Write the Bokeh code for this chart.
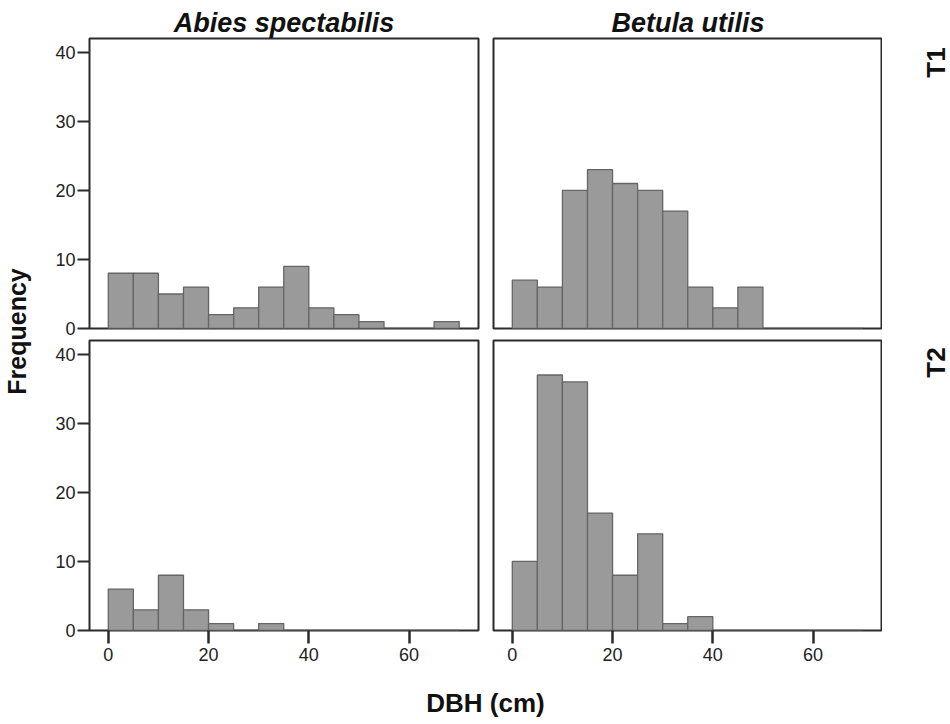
import math
from bokeh.plotting import figure
from bokeh.layouts import row, column
from bokeh.models import Range1d, FixedTicker
from bokeh.core.properties import value
from bokeh.embed import file_html
from bokeh.resources import INLINE

# ---- data ----
bin_left = [0, 5, 10, 15, 20, 25, 30, 35, 40, 45, 50, 55, 60, 65]
bin_right = [5, 10, 15, 20, 25, 30, 35, 40, 45, 50, 55, 60, 65, 70]
abies_t1 = [8, 8, 5, 6, 2, 3, 6, 9, 3, 2, 1, 0, 0, 1]
betula_t1 = [7, 6, 20, 23, 21, 20, 17, 6, 3, 6, 0, 0, 0, 0]
abies_t2 = [6, 3, 8, 3, 1, 0, 1, 0, 0, 0, 0, 0, 0, 0]
betula_t2 = [10, 37, 36, 17, 8, 14, 1, 2, 0, 0, 0, 0, 0, 0]
species = ["Abies spectabilis", "Betula utilis"]
periods = ["T1", "T2"]
x_ticks = [0, 20, 40, 60]
y_ticks = [0, 10, 20, 30, 40]
x_label = "DBH (cm)"
y_label = "Frequency"

FONT = "Liberation Sans"
INK = "#111111"
FRAME = "#2b2b2b"
X_RANGE = (-3.75, 73.85)
Y_RANGE = (0, 42)

FRAME_W = 389
FRAME_H = 290


def no_grid(p):
    for g in p.grid:
        g.visible = False


def panel(counts, left_axis, bottom_axis, title, mb_left, mb_right, mb_top, mb_bottom):
    p = figure(
        width=mb_left + FRAME_W + mb_right,
        height=mb_top + FRAME_H + mb_bottom,
        x_range=Range1d(*X_RANGE), y_range=Range1d(*Y_RANGE),
        x_axis_location="below" if bottom_axis else None,
        y_axis_location="left" if left_axis else None,
        output_backend="svg", toolbar_location=None, title=title,
        min_border_left=mb_left, min_border_right=mb_right,
        min_border_top=mb_top, min_border_bottom=mb_bottom,
    )
    p.background_fill_color = "white"
    p.border_fill_color = "white"
    p.outline_line_color = FRAME
    p.outline_line_width = 2
    no_grid(p)
    p.quad(left=bin_left, right=bin_right, top=counts, bottom=0,
           fill_color="#9a9a9a", line_color="#656565", line_width=1.3)
    if title is not None:
        p.title.text_font = FONT
        p.title.text_font_size = "27px"
        p.title.text_font_style = "bold italic"
        p.title.text_color = INK
        p.title.align = "center"
        p.title.standoff = 2
    if left_axis:
        ax = p.yaxis[0]
        ax.ticker = FixedTicker(ticks=y_ticks, minor_ticks=[])
        ax.axis_line_color = None
        ax.major_tick_out = 12
        ax.major_tick_in = 0
        ax.minor_tick_out = 0
        ax.minor_tick_in = 0
        ax.major_tick_line_color = FRAME
        ax.major_tick_line_width = 2
        ax.major_label_text_font = FONT
        ax.major_label_text_font_size = "18px"
        ax.major_label_text_color = "#222222"
        ax.major_label_standoff = 2
    if bottom_axis:
        ax = p.xaxis[0]
        ax.ticker = FixedTicker(ticks=x_ticks, minor_ticks=[])
        ax.axis_line_color = None
        ax.major_tick_out = 13
        ax.major_tick_in = 0
        ax.minor_tick_out = 0
        ax.minor_tick_in = 0
        ax.major_tick_line_color = FRAME
        ax.major_tick_line_width = 2.5
        ax.major_label_text_font = FONT
        ax.major_label_text_font_size = "18px"
        ax.major_label_text_color = "#222222"
        ax.major_label_standoff = 4
    return p


def strip(w, h):
    s = figure(width=w, height=h, x_range=Range1d(0, w), y_range=Range1d(0, h),
               x_axis_location=None, y_axis_location=None,
               output_backend="svg", toolbar_location=None, title=None,
               min_border=0)
    s.outline_line_color = None
    s.background_fill_color = "white"
    s.border_fill_color = "white"
    no_grid(s)
    return s


tl = panel(abies_t1, True, False, species[0], 45, 7, 38, 10)
tr = panel(betula_t1, False, False, species[1], 8, 0, 38, 10)
bl = panel(abies_t2, True, True, None, 45, 7, 2, 40)
br = panel(betula_t2, False, True, None, 8, 0, 2, 40)

# left strip: y label
left = strip(44, 724)
left.text(x=[16], y=[393], text=[y_label], angle=math.pi / 2,
          text_align="center", text_baseline="alphabetic",
          text_font=value(FONT), text_font_style="bold",
          text_font_size="25px", text_color=INK)

# right strip: period labels
right = strip(68, 724)
right.text(x=[53, 53], y=[662, 362], text=periods, angle=math.pi / 2,
           text_align="center", text_baseline="alphabetic",
           text_font=value(FONT), text_font_style="bold",
           text_font_size="26px", text_color=INK)

# bottom strip: x label
bottom = strip(838, 54)
bottom.text(x=[441], y=[22], text=[x_label],
            text_align="center", text_baseline="alphabetic",
            text_font=value(FONT), text_font_style="bold",
            text_font_size="26px", text_color=INK)

layout = row(left, column(row(tl, tr), row(bl, br), bottom), right)

open("out.html", "w").write(file_html(layout, INLINE))
